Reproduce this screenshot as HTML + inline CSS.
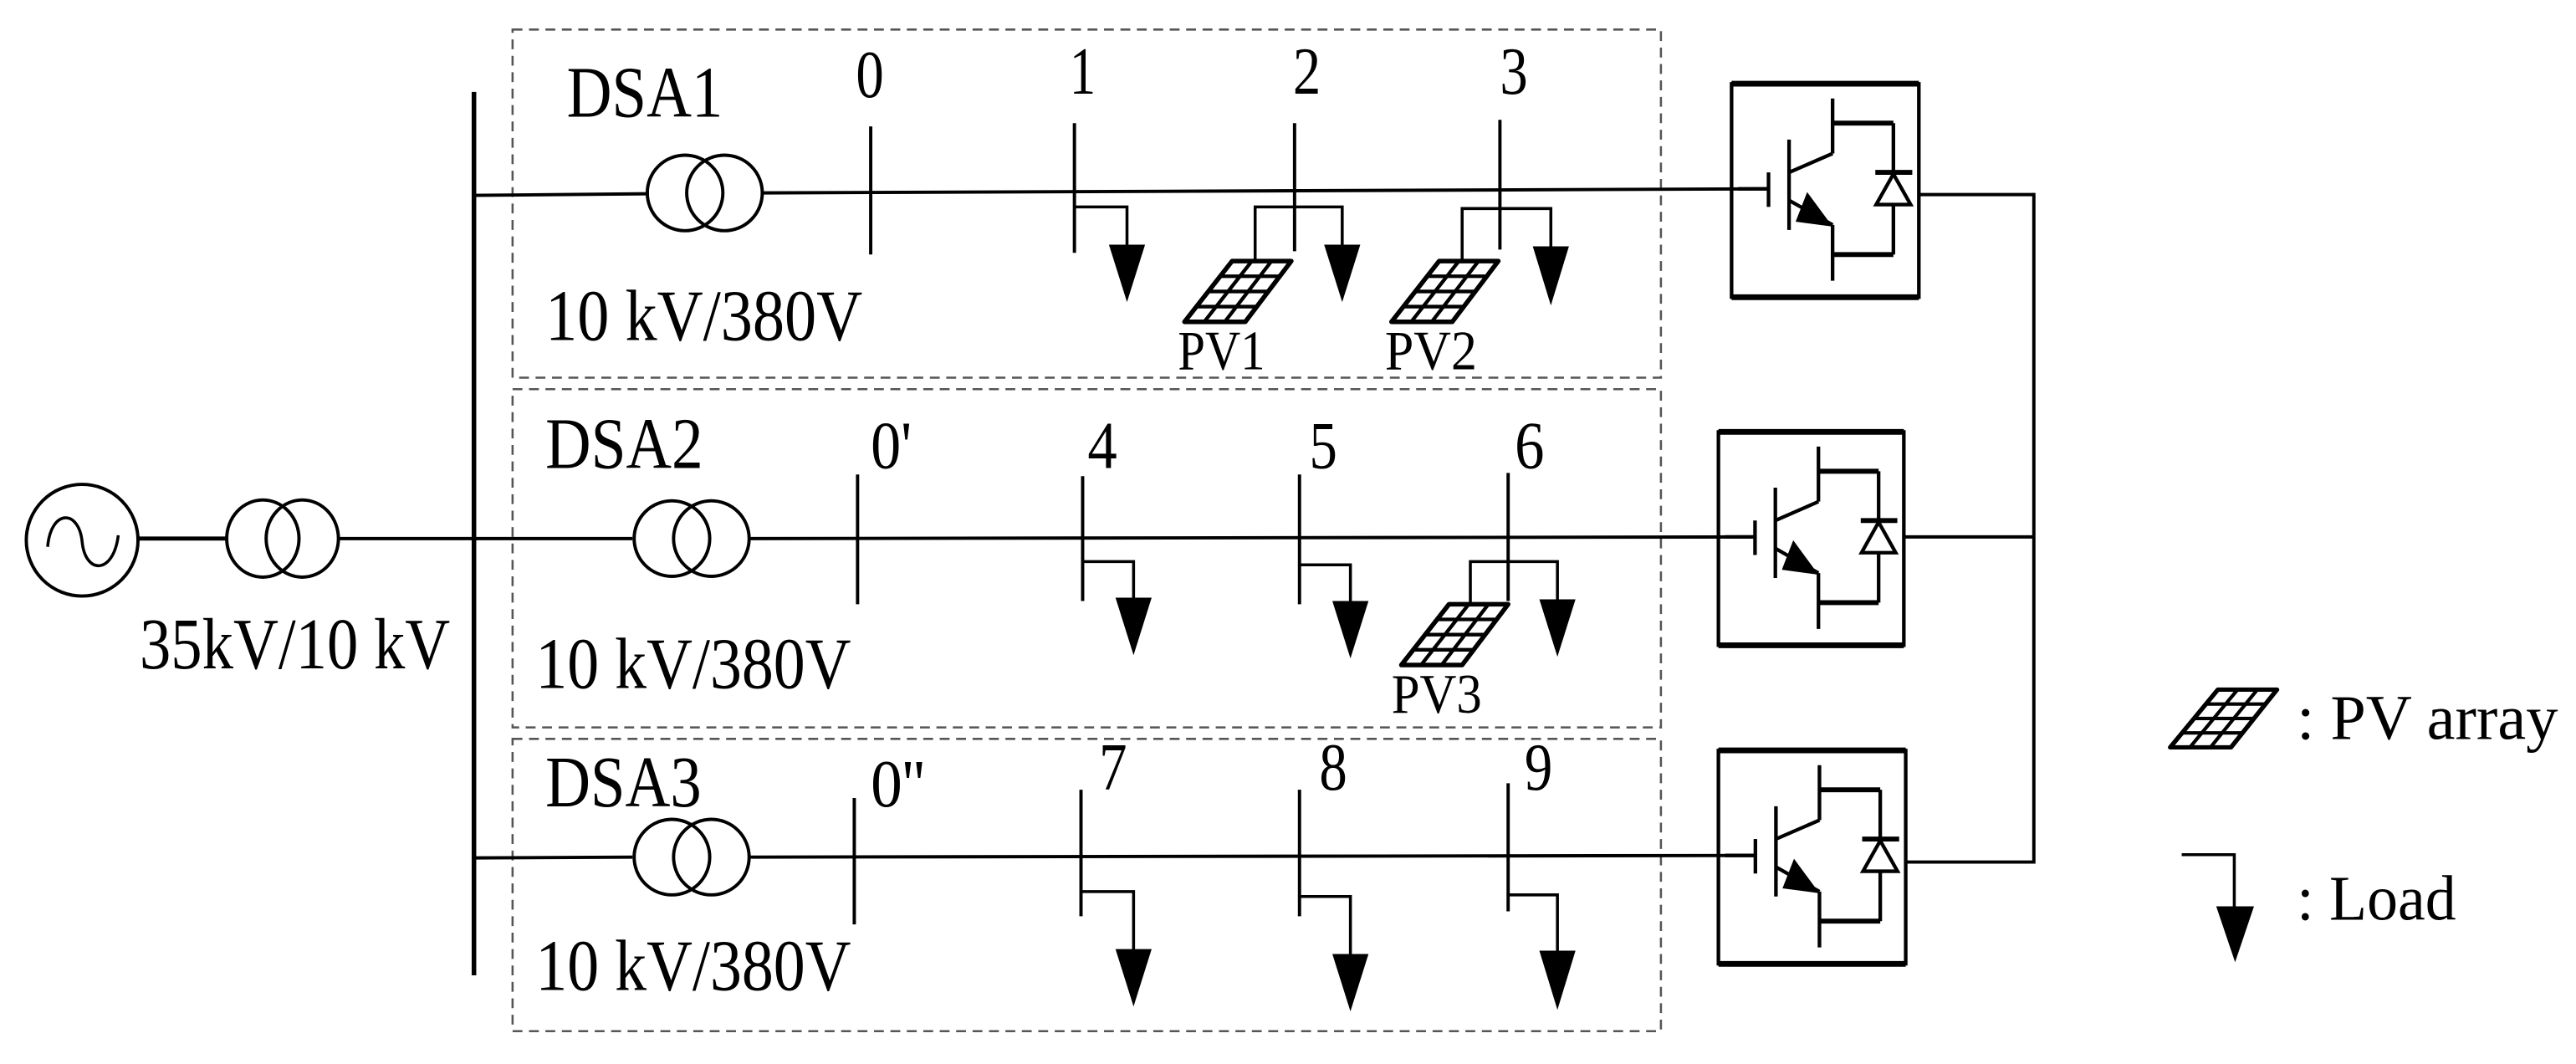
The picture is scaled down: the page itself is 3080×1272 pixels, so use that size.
<!DOCTYPE html>
<html><head><meta charset="utf-8"><style>
html,body{margin:0;padding:0;background:#fff}
svg{display:block}
text{font-family:"Liberation Serif",serif;fill:#000}
</style></head><body>
<svg width="3080" height="1272" viewBox="0 0 1568 648" preserveAspectRatio="none" xmlns="http://www.w3.org/2000/svg">
<defs>
<g id="pv">
<polygon points="29,0 65,0 37,37 0,37" fill="#fff" stroke="#000" stroke-width="2.8" stroke-linejoin="round"/>
<line x1="21.75" y1="9.25" x2="57.75" y2="9.25" stroke="#000" stroke-width="2.2"/>
<line x1="14.5" y1="18.5" x2="50.5" y2="18.5" stroke="#000" stroke-width="2.2"/>
<line x1="7.25" y1="27.75" x2="43.25" y2="27.75" stroke="#000" stroke-width="2.2"/>
<line x1="41" y1="0" x2="12" y2="37" stroke="#000" stroke-width="2.2"/>
<line x1="53" y1="0" x2="24.5" y2="37" stroke="#000" stroke-width="2.2"/>
</g>
<g id="conv" fill="none" stroke="#000">
<line x1="0" y1="1" x2="114" y2="1" stroke-width="3.5"/>
<line x1="0" y1="131" x2="114" y2="131" stroke-width="3.5"/>
<line x1="0" y1="0" x2="0" y2="132" stroke-width="2.2"/>
<line x1="114" y1="0" x2="114" y2="132" stroke-width="2.2"/>
<line x1="4" y1="65" x2="22.5" y2="65" stroke-width="2.2"/>
<line x1="22.5" y1="55" x2="22.5" y2="76" stroke-width="2.2"/>
<line x1="35" y1="35" x2="35" y2="90" stroke-width="2.2"/>
<line x1="35" y1="55" x2="61.5" y2="43.5" stroke-width="2.2"/>
<line x1="61.5" y1="10" x2="61.5" y2="43.5" stroke-width="2.2"/>
<line x1="61.5" y1="25" x2="98.5" y2="25" stroke-width="3"/>
<line x1="98.5" y1="25" x2="98.5" y2="105" stroke-width="2.2"/>
<line x1="61.5" y1="105" x2="98.5" y2="105" stroke-width="3"/>
<line x1="35" y1="72" x2="61.5" y2="87" stroke-width="2.2"/>
<polygon points="46,67 39,85 61.5,88" fill="#000" stroke="none"/>
<line x1="61.5" y1="87" x2="61.5" y2="121" stroke-width="2.2"/>
<line x1="87.5" y1="55" x2="110" y2="55" stroke-width="3"/>
<polygon points="98.5,56 88,74.6 109,74.6" fill="#fff" stroke-width="2.2"/>
</g>
</defs>

<g fill="none" stroke="#555" stroke-width="1.3" stroke-dasharray="6,4">
<rect x="312" y="18" width="699" height="212"/>
<rect x="312" y="237" width="699" height="206"/>
<rect x="312" y="450" width="699" height="178"/>
</g>

<g stroke="#000" fill="none" stroke-width="2">
<circle cx="50" cy="329" r="34"/>
<path d="M29,333 C31,310 48,310 50,330 S69,350 72,326" stroke-width="1.8"/>
<line x1="84" y1="328" x2="139" y2="328" stroke-width="2.5"/>
<ellipse cx="160" cy="328" rx="22" ry="23.5"/>
<ellipse cx="184" cy="328" rx="22" ry="23.5"/>
<line x1="206" y1="328" x2="288" y2="328"/>
<line x1="288.5" y1="56" x2="288.5" y2="594" stroke-width="2.8"/>

<line x1="288" y1="119" x2="395" y2="118"/>
<circle cx="417" cy="117.5" r="23"/>
<circle cx="441" cy="117.5" r="23"/>
<line x1="464" y1="117.5" x2="1076" y2="115"/>
<line x1="530" y1="77" x2="530" y2="155"/>
<line x1="654" y1="75" x2="654" y2="154"/>
<line x1="788" y1="75" x2="788" y2="153"/>
<line x1="913" y1="73" x2="913" y2="152"/>
<polyline points="654,126 686,126 686,150" stroke-width="1.8"/>
<polyline points="764,159 764,126 817,126 817,150" stroke-width="1.8"/>
<polyline points="890,159 890,127 944,127 944,150" stroke-width="1.8"/>

<line x1="288" y1="328" x2="385" y2="328"/>
<circle cx="409" cy="328" r="23"/>
<circle cx="433" cy="328" r="23"/>
<line x1="456" y1="328" x2="1068" y2="327"/>
<line x1="522" y1="289" x2="522" y2="368"/>
<line x1="659" y1="290" x2="659" y2="366"/>
<line x1="791" y1="289" x2="791" y2="368"/>
<line x1="918" y1="288" x2="918" y2="366"/>
<polyline points="659,342 690,342 690,366" stroke-width="1.8"/>
<polyline points="791,344 822,344 822,368" stroke-width="1.8"/>
<polyline points="895,368 895,342 948,342 948,367" stroke-width="1.8"/>

<line x1="288" y1="522.5" x2="385" y2="522"/>
<circle cx="409" cy="522" r="23"/>
<circle cx="433" cy="522" r="23"/>
<line x1="456" y1="522" x2="1068" y2="521"/>
<line x1="520" y1="486" x2="520" y2="563"/>
<line x1="658" y1="481" x2="658" y2="558"/>
<line x1="791" y1="481" x2="791" y2="558"/>
<line x1="918" y1="477" x2="918" y2="555"/>
<polyline points="658,543 690,543 690,580" stroke-width="1.8"/>
<polyline points="791,546 822,546 822,583" stroke-width="1.8"/>
<polyline points="918,545 948,545 948,581" stroke-width="1.8"/>

<line x1="1168" y1="118.5" x2="1238" y2="118.5"/>
<line x1="1159" y1="327" x2="1238" y2="327"/>
<line x1="1159" y1="525" x2="1238" y2="525"/>
<line x1="1238" y1="117.5" x2="1238" y2="526"/>

<polyline points="1328,520.5 1360,520.5 1360,553" stroke-width="1.8"/>
</g>

<g fill="#000">
<polygon points="675,149 697,149 686,184"/>
<polygon points="806,149 828,149 817,184"/>
<polygon points="933,150 955,150 944,186"/>
<polygon points="679,364 701,364 690,399"/>
<polygon points="811,366 833,366 822,401"/>
<polygon points="937,365 959,365 948,400"/>
<polygon points="679,578 701,578 690,613"/>
<polygon points="811,581 833,581 822,616"/>
<polygon points="937,579 959,579 948,615"/>
<polygon points="1349,552 1372,552 1360.5,586"/>
</g>

<use href="#pv" transform="translate(721,159)"/>
<use href="#pv" transform="translate(847,159)"/>
<use href="#pv" transform="translate(853,368)"/>
<use href="#pv" transform="translate(1321,420) scale(1,0.95)"/>

<use href="#conv" transform="translate(1054,50)"/>
<use href="#conv" transform="translate(1046,262) scale(0.99,1)"/>
<use href="#conv" transform="translate(1046,456)"/>

<text x="345" y="71" font-size="44" textLength="95" lengthAdjust="spacingAndGlyphs">DSA1</text>
<text x="332" y="285" font-size="44" textLength="96" lengthAdjust="spacingAndGlyphs">DSA2</text>
<text x="332" y="491" font-size="44" textLength="95" lengthAdjust="spacingAndGlyphs">DSA3</text>
<text x="332" y="207" font-size="44" textLength="193" lengthAdjust="spacingAndGlyphs">10 kV/380V</text>
<text x="326" y="419" font-size="44" textLength="192" lengthAdjust="spacingAndGlyphs">10 kV/380V</text>
<text x="326" y="603" font-size="44" textLength="192" lengthAdjust="spacingAndGlyphs">10 kV/380V</text>
<text x="85" y="407" font-size="44" textLength="189" lengthAdjust="spacingAndGlyphs">35kV/10 kV</text>

<g font-size="41">
<text x="521" y="59" textLength="17" lengthAdjust="spacingAndGlyphs">0</text>
<text x="651" y="57" textLength="16" lengthAdjust="spacingAndGlyphs">1</text>
<text x="787" y="57" textLength="17" lengthAdjust="spacingAndGlyphs">2</text>
<text x="913" y="57" textLength="17" lengthAdjust="spacingAndGlyphs">3</text>
<text x="530" y="285" textLength="25" lengthAdjust="spacingAndGlyphs">0'</text>
<text x="662" y="285" textLength="18" lengthAdjust="spacingAndGlyphs">4</text>
<text x="797" y="285" textLength="17" lengthAdjust="spacingAndGlyphs">5</text>
<text x="922" y="285" textLength="18" lengthAdjust="spacingAndGlyphs">6</text>
<text x="530" y="491" textLength="33" lengthAdjust="spacingAndGlyphs">0''</text>
<text x="669" y="481" textLength="17" lengthAdjust="spacingAndGlyphs">7</text>
<text x="803" y="481" textLength="17" lengthAdjust="spacingAndGlyphs">8</text>
<text x="928" y="481" textLength="17" lengthAdjust="spacingAndGlyphs">9</text>
</g>
<g font-size="34">
<text x="717" y="225" textLength="53" lengthAdjust="spacingAndGlyphs">PV1</text>
<text x="843" y="225" textLength="56" lengthAdjust="spacingAndGlyphs">PV2</text>
<text x="847" y="434" textLength="55" lengthAdjust="spacingAndGlyphs">PV3</text>
</g>
<text x="1398" y="450" font-size="39" textLength="159" lengthAdjust="spacingAndGlyphs">: PV array</text>
<text x="1398" y="560" font-size="39" textLength="97" lengthAdjust="spacingAndGlyphs">: Load</text>
</svg>
</body></html>
